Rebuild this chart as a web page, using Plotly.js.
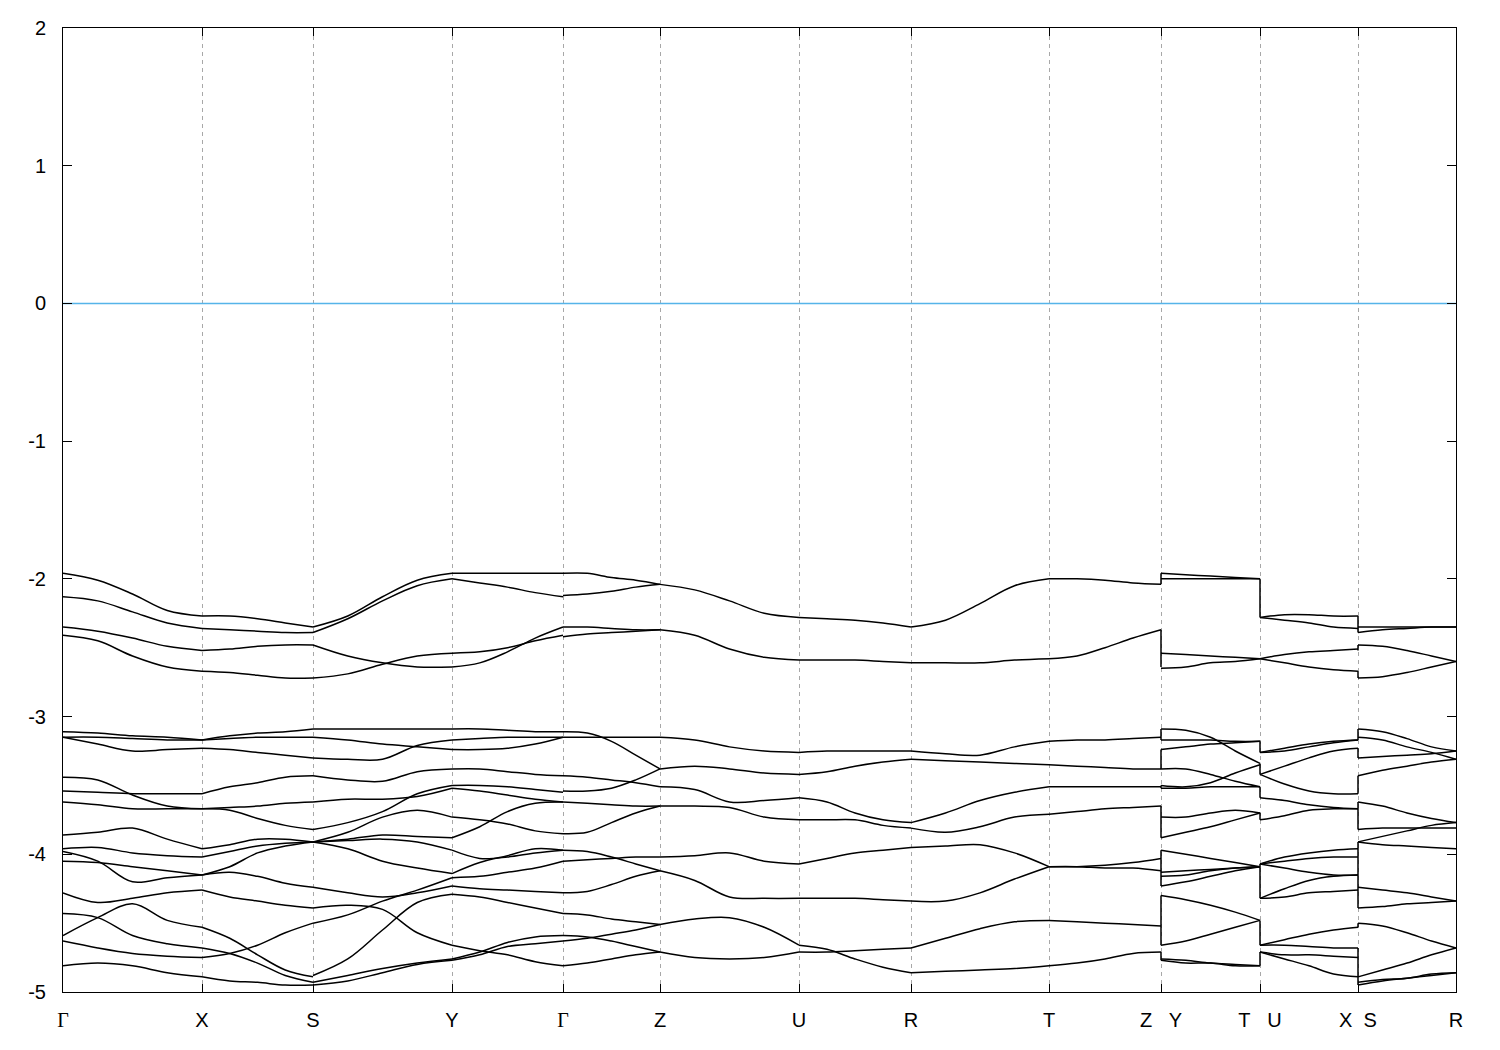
<!DOCTYPE html>
<html>
<head>
<meta charset="utf-8">
<script src="https://cdn.plot.ly/plotly-3.0.1.min.js"></script>
<style>html,body{margin:0;padding:0;background:#fff;}#chart{width:1500px;height:1050px;}</style>
</head>
<body>
<div id="chart"></div>
<script>
// k-path high-symmetry positions and labels
const kTicks = [0, 139, 250, 389, 500, 597, 736, 848, 986, 1098, 1197, 1295, 1393];
const G = '<span style="font-family:\'Liberation Serif\',serif">Γ</span>';
const kLabels = [G, 'X', 'S', 'Y', G, 'Z', 'U', 'R', 'T', 'Z\u00a0\u00a0\u00a0Y', 'T\u00a0\u00a0\u00a0U', 'X\u00a0\u00a0S', 'R'];
const yTicks = [-5, -4, -3, -2, -1, 0, 1, 2];
const yLabels = ['-5', '-4', '-3', '-2', '-1', '0', '1', '2'];

// Band energies (eV) per path segment, sampled at 0, 1/4, 1/2, 3/4, 1 of each segment
const bandsGX = [
 [-1.96,-2.01,-2.11,-2.23,-2.27],[-2.13,-2.16,-2.24,-2.32,-2.36],[-2.35,-2.38,-2.43,-2.49,-2.52],[-2.41,-2.45,-2.56,-2.64,-2.67],
 [-3.11,-3.12,-3.14,-3.15,-3.17],[-3.15,-3.15,-3.16,-3.17,-3.17],[-3.15,-3.20,-3.25,-3.24,-3.23],[-3.44,-3.46,-3.57,-3.65,-3.67],
 [-3.54,-3.55,-3.56,-3.56,-3.56],[-3.62,-3.64,-3.67,-3.67,-3.67],[-3.86,-3.84,-3.81,-3.89,-3.96],[-3.96,-3.95,-3.99,-4.01,-4.02],
 [-3.98,-4.05,-4.20,-4.17,-4.15],[-4.05,-4.06,-4.09,-4.12,-4.15],[-4.28,-4.35,-4.32,-4.28,-4.26],[-4.43,-4.46,-4.59,-4.65,-4.68],
 [-4.59,-4.46,-4.36,-4.48,-4.53],[-4.63,-4.68,-4.72,-4.74,-4.75],[-4.81,-4.79,-4.81,-4.86,-4.89]
];
const bandsXS = [
 [-2.27,-2.27,-2.29,-2.32,-2.35],[-2.36,-2.37,-2.38,-2.39,-2.39],[-2.52,-2.51,-2.49,-2.48,-2.48],[-2.67,-2.68,-2.70,-2.72,-2.72],
 [-3.17,-3.14,-3.12,-3.11,-3.09],[-3.17,-3.16,-3.15,-3.15,-3.15],[-3.23,-3.24,-3.26,-3.28,-3.30],[-3.56,-3.51,-3.48,-3.44,-3.43],
 [-3.67,-3.66,-3.65,-3.63,-3.62],[-3.67,-3.68,-3.74,-3.79,-3.82],[-3.96,-3.93,-3.89,-3.89,-3.91],[-4.02,-3.98,-3.94,-3.92,-3.91],
 [-4.15,-4.09,-3.99,-3.94,-3.91],[-4.15,-4.13,-4.16,-4.21,-4.24],[-4.26,-4.31,-4.34,-4.37,-4.39],[-4.53,-4.61,-4.73,-4.84,-4.89],
 [-4.68,-4.72,-4.79,-4.88,-4.93],[-4.75,-4.72,-4.66,-4.57,-4.50],[-4.89,-4.92,-4.93,-4.95,-4.95]
];
const bandsSY = [
 [-2.35,-2.27,-2.13,-2.01,-1.96],[-2.39,-2.29,-2.16,-2.05,-2.00],[-2.48,-2.56,-2.61,-2.64,-2.64],[-2.72,-2.69,-2.62,-2.56,-2.54],
 [-3.09,-3.09,-3.09,-3.09,-3.09],[-3.15,-3.17,-3.20,-3.22,-3.24],[-3.30,-3.31,-3.31,-3.21,-3.17],[-3.43,-3.46,-3.47,-3.40,-3.38],
 [-3.62,-3.60,-3.60,-3.58,-3.52],[-3.82,-3.77,-3.69,-3.56,-3.50],[-3.91,-3.84,-3.73,-3.68,-3.73],[-3.91,-3.89,-3.86,-3.87,-3.88],
 [-3.91,-3.96,-4.05,-4.10,-4.14],[-3.91,-3.90,-3.89,-3.91,-3.97],[-4.24,-4.28,-4.31,-4.28,-4.23],[-4.39,-4.37,-4.40,-4.57,-4.66],
 [-4.50,-4.44,-4.34,-4.26,-4.17],[-4.88,-4.76,-4.55,-4.35,-4.29],[-4.93,-4.88,-4.83,-4.79,-4.76],[-4.95,-4.92,-4.86,-4.80,-4.77]
];
const bandsYG = [
 [-1.96,-1.96,-1.96,-1.96,-1.96],[-2.00,-2.03,-2.06,-2.10,-2.13],[-2.64,-2.61,-2.53,-2.43,-2.35],[-2.54,-2.53,-2.50,-2.45,-2.41],
 [-3.09,-3.09,-3.10,-3.11,-3.11],[-3.24,-3.24,-3.23,-3.20,-3.15],[-3.17,-3.16,-3.15,-3.15,-3.15],[-3.38,-3.38,-3.40,-3.42,-3.43],
 [-3.52,-3.54,-3.57,-3.60,-3.62],[-3.50,-3.50,-3.51,-3.53,-3.55],[-3.73,-3.75,-3.78,-3.83,-3.85],[-3.88,-3.80,-3.69,-3.63,-3.62],
 [-4.14,-4.06,-4.01,-3.96,-3.97],[-3.97,-4.03,-4.02,-3.99,-3.97],[-4.23,-4.25,-4.26,-4.27,-4.28],[-4.17,-4.16,-4.13,-4.10,-4.05],
 [-4.66,-4.70,-4.73,-4.78,-4.81],[-4.29,-4.31,-4.35,-4.39,-4.43],[-4.76,-4.71,-4.64,-4.60,-4.59],[-4.77,-4.73,-4.67,-4.65,-4.63]
];
const bandsGZ = [
 [-1.96,-1.96,-1.99,-2.01,-2.04],[-2.12,-2.11,-2.09,-2.06,-2.04],[-2.35,-2.35,-2.36,-2.37,-2.37],[-2.42,-2.40,-2.39,-2.38,-2.37],
 [-3.11,-3.12,-3.18,-3.28,-3.38],[-3.15,-3.15,-3.15,-3.15,-3.15],[-3.43,-3.44,-3.46,-3.48,-3.51],[-3.54,-3.54,-3.52,-3.46,-3.38],
 [-3.62,-3.63,-3.64,-3.65,-3.65],[-3.85,-3.84,-3.77,-3.70,-3.65],[-3.97,-3.98,-4.02,-4.07,-4.12],[-4.05,-4.04,-4.03,-4.02,-4.02],
 [-4.28,-4.27,-4.22,-4.16,-4.12],[-4.43,-4.44,-4.47,-4.49,-4.51],[-4.59,-4.60,-4.63,-4.67,-4.71],[-4.63,-4.61,-4.58,-4.55,-4.51],
 [-4.81,-4.79,-4.76,-4.73,-4.71]
];
const bandsZU = [
 [-2.04,-2.08,-2.16,-2.25,-2.28],[-2.37,-2.41,-2.51,-2.57,-2.59],[-3.15,-3.17,-3.22,-3.25,-3.26],[-3.38,-3.36,-3.38,-3.41,-3.42],
 [-3.51,-3.53,-3.62,-3.61,-3.59],[-3.65,-3.65,-3.66,-3.73,-3.75],[-4.02,-4.01,-3.99,-4.05,-4.07],[-4.12,-4.19,-4.31,-4.32,-4.32],
 [-4.51,-4.47,-4.46,-4.53,-4.66],[-4.71,-4.75,-4.76,-4.75,-4.71]
];
const bandsUR = [
 [-2.28,-2.29,-2.30,-2.32,-2.35],[-2.59,-2.59,-2.59,-2.60,-2.61],[-3.26,-3.25,-3.25,-3.25,-3.25],[-3.42,-3.40,-3.36,-3.33,-3.31],
 [-3.59,-3.62,-3.70,-3.75,-3.77],[-3.75,-3.75,-3.75,-3.79,-3.81],[-4.07,-4.03,-3.99,-3.97,-3.95],[-4.32,-4.32,-4.32,-4.33,-4.34],
 [-4.66,-4.69,-4.76,-4.82,-4.86],[-4.71,-4.71,-4.70,-4.69,-4.68]
];
const bandsRT = [
 [-2.35,-2.30,-2.18,-2.05,-2.00],[-2.61,-2.61,-2.61,-2.59,-2.58],[-3.25,-3.27,-3.28,-3.22,-3.18],[-3.31,-3.32,-3.33,-3.34,-3.35],
 [-3.77,-3.70,-3.61,-3.55,-3.51],[-3.81,-3.84,-3.80,-3.73,-3.71],[-3.95,-3.94,-3.93,-3.99,-4.09],[-4.34,-4.34,-4.28,-4.18,-4.09],
 [-4.86,-4.85,-4.84,-4.83,-4.81],[-4.68,-4.61,-4.54,-4.49,-4.48]
];
const bandsTZ = [
 [-2.00,-2.00,-2.01,-2.03,-2.04],[-2.58,-2.56,-2.50,-2.43,-2.37],[-3.18,-3.17,-3.17,-3.16,-3.15],[-3.35,-3.36,-3.37,-3.38,-3.38],
 [-3.51,-3.51,-3.51,-3.51,-3.51],[-3.71,-3.69,-3.67,-3.66,-3.65],[-4.09,-4.09,-4.08,-4.06,-4.03],[-4.09,-4.09,-4.10,-4.10,-4.12],
 [-4.48,-4.49,-4.50,-4.51,-4.52],[-4.81,-4.79,-4.76,-4.72,-4.71]
];
const bandsYT = [
 [-1.96,-1.97,-1.98,-1.99,-2.00],[-2.00,-2.00,-2.00,-2.00,-2.00],[-2.54,-2.55,-2.56,-2.57,-2.58],[-2.65,-2.64,-2.61,-2.60,-2.58],
 [-3.09,-3.10,-3.15,-3.25,-3.34],[-3.17,-3.17,-3.17,-3.18,-3.18],[-3.24,-3.22,-3.20,-3.19,-3.18],[-3.38,-3.38,-3.42,-3.47,-3.51],
 [-3.50,-3.51,-3.48,-3.41,-3.35],[-3.52,-3.52,-3.51,-3.51,-3.51],[-3.73,-3.73,-3.70,-3.68,-3.70],[-3.88,-3.84,-3.80,-3.75,-3.70],
 [-3.97,-4.00,-4.03,-4.06,-4.09],[-4.13,-4.12,-4.11,-4.10,-4.09],[-4.16,-4.15,-4.12,-4.10,-4.09],[-4.23,-4.20,-4.16,-4.12,-4.09],
 [-4.30,-4.33,-4.37,-4.42,-4.48],[-4.66,-4.63,-4.58,-4.53,-4.48],[-4.76,-4.77,-4.79,-4.80,-4.81],[-4.77,-4.79,-4.79,-4.81,-4.81]
];
const bandsUX = [
 [-2.28,-2.26,-2.26,-2.27,-2.27],[-2.28,-2.30,-2.32,-2.35,-2.36],[-2.58,-2.55,-2.53,-2.52,-2.51],[-2.58,-2.61,-2.64,-2.66,-2.67],
 [-3.26,-3.23,-3.20,-3.18,-3.17],[-3.26,-3.25,-3.22,-3.19,-3.17],[-3.42,-3.36,-3.30,-3.25,-3.23],[-3.42,-3.49,-3.54,-3.56,-3.56],
 [-3.59,-3.61,-3.64,-3.66,-3.67],[-3.75,-3.72,-3.68,-3.67,-3.67],[-4.07,-4.02,-3.99,-3.97,-3.96],[-4.07,-4.05,-4.03,-4.02,-4.02],
 [-4.07,-4.10,-4.13,-4.15,-4.15],[-4.32,-4.25,-4.19,-4.16,-4.15],[-4.32,-4.31,-4.28,-4.27,-4.26],[-4.66,-4.62,-4.58,-4.55,-4.53],
 [-4.66,-4.66,-4.67,-4.68,-4.68],[-4.71,-4.73,-4.73,-4.74,-4.75],[-4.71,-4.76,-4.81,-4.87,-4.89]
];
const bandsSR = [
 [-2.35,-2.35,-2.35,-2.35,-2.35],[-2.39,-2.37,-2.36,-2.35,-2.35],[-2.48,-2.49,-2.52,-2.56,-2.60],[-2.72,-2.71,-2.68,-2.64,-2.60],
 [-3.09,-3.11,-3.16,-3.22,-3.25],[-3.15,-3.17,-3.22,-3.26,-3.31],[-3.30,-3.29,-3.28,-3.27,-3.25],[-3.43,-3.39,-3.36,-3.33,-3.31],
 [-3.62,-3.65,-3.70,-3.74,-3.77],[-3.82,-3.81,-3.81,-3.81,-3.81],[-3.91,-3.87,-3.83,-3.79,-3.77],[-3.91,-3.93,-3.94,-3.95,-3.96],
 [-4.24,-4.26,-4.28,-4.31,-4.34],[-4.39,-4.38,-4.36,-4.35,-4.34],[-4.50,-4.52,-4.57,-4.63,-4.68],[-4.89,-4.84,-4.79,-4.73,-4.68],
 [-4.93,-4.91,-4.90,-4.87,-4.86],[-4.95,-4.92,-4.90,-4.88,-4.86]
];

// Vertical jumps at path discontinuities (energy spans)
const jumpZY = [[-1.96,-2.04],[-2.37,-2.64],[-3.09,-3.17],[-3.24,-3.38],[-3.50,-3.52],[-3.65,-3.88],[-3.97,-4.23],[-4.30,-4.66],[-4.71,-4.77]];
const jumpTU = [[-2.00,-2.28],[-3.18,-3.26],[-3.34,-3.42],[-3.51,-3.59],[-3.70,-3.75],[-4.07,-4.32],[-4.48,-4.66],[-4.71,-4.81]];
const jumpXS = [[-2.27,-2.39],[-2.48,-2.52],[-2.67,-2.72],[-3.09,-3.17],[-3.23,-3.30],[-3.43,-3.56],[-3.62,-3.82],[-3.91,-4.39],[-4.50,-4.53],[-4.68,-4.95]];

const segments = [
  [0,1,bandsGX],[1,2,bandsXS],[2,3,bandsSY],[3,4,bandsYG],[4,5,bandsGZ],[5,6,bandsZU],
  [6,7,bandsUR],[7,8,bandsRT],[8,9,bandsTZ],[9,10,bandsYT],[10,11,bandsUX],[11,12,bandsSR]
];
const jumps = [[9,jumpZY],[10,jumpTU],[11,jumpXS]];

const traces = [];
segments.forEach(([a,b,bands]) => {
  const x0 = kTicks[a], x1 = kTicks[b];
  const xs = [], ys = [];
  bands.forEach(band => {
    band.forEach((v,i) => { xs.push(x0 + (x1 - x0) * i / (band.length - 1)); ys.push(v); });
    xs.push(null); ys.push(null);
  });
  traces.push({type:'scatter', mode:'lines', x:xs, y:ys, connectgaps:false, hoverinfo:'skip', showlegend:false,
    line:{color:'#000000', width:1.5, shape:'spline', smoothing:1}});
});
const jx = [], jy = [];
jumps.forEach(([idx, spans]) => {
  spans.forEach(([e1,e2]) => { jx.push(kTicks[idx], kTicks[idx], null); jy.push(e1, e2, null); });
});
traces.push({type:'scatter', mode:'lines', x:jx, y:jy, connectgaps:false, hoverinfo:'skip', showlegend:false,
  line:{color:'#000000', width:1.5}});
// Fermi level
traces.push({type:'scatter', mode:'lines', x:[kTicks[0], kTicks[kTicks.length-1]], y:[0,0], hoverinfo:'skip', showlegend:false,
  line:{color:'#56b4e9', width:1.5}});

const font = {family:'Liberation Sans, Arial, sans-serif', size:20, color:'#000000'};
const layout = {
  width:1500, height:1050,
  margin:{l:63, r:44, t:28, b:58},
  paper_bgcolor:'#ffffff', plot_bgcolor:'#ffffff',
  showlegend:false,
  font:font,
  xaxis:{range:[kTicks[0], kTicks[kTicks.length-1]], tickmode:'array', tickvals:kTicks, ticktext:kLabels,
    ticks:'inside', ticklen:8, tickwidth:1, tickcolor:'#000000', mirror:'ticks',
    showline:true, linecolor:'#000000', linewidth:1,
    showgrid:true, gridcolor:'#a8a8a8', gridwidth:1, griddash:'4px,4px',
    zeroline:false, tickfont:font, ticklabelstandoff:10},
  yaxis:{range:[-5,2], tickmode:'array', tickvals:yTicks, ticktext:yLabels,
    ticks:'inside', ticklen:9, tickwidth:1, tickcolor:'#000000', mirror:'ticks',
    showline:true, linecolor:'#000000', linewidth:1,
    showgrid:false, zeroline:false, tickfont:font, ticklabelstandoff:12}
};
Plotly.newPlot('chart', traces, layout, {staticPlot:true, displayModeBar:false});
</script>
</body>
</html>
